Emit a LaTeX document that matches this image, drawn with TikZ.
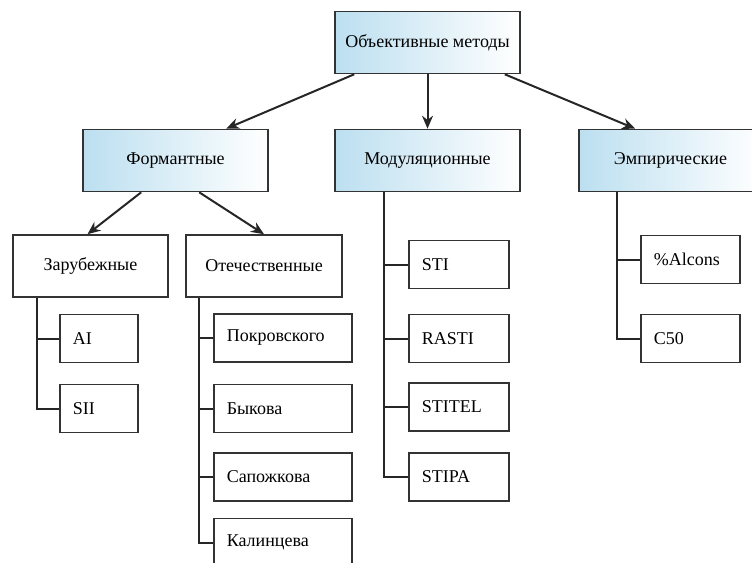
\documentclass[tikz,border=0pt]{standalone}
\usepackage{fontspec}
\setmainfont{Liberation Serif}
\usepackage{tikz}
\usetikzlibrary{arrows.meta}

\definecolor{headblue}{RGB}{188,223,240}

\begin{document}
\begin{tikzpicture}[x=1pt,y=-1pt,
		head/.style={draw=black!80, line width=1.6pt, left color=headblue, right color=white,
			minimum width=185pt, minimum height=62pt, font=\fontsize{18}{20}\selectfont},
		group/.style={draw=black!80, line width=1.6pt, fill=white,
			minimum height=62pt, font=\fontsize{18}{20}\selectfont},
		leaf/.style={draw=black!80, line width=1.6pt, anchor=west, align=left,
			inner xsep=13pt, minimum height=48pt, font=\fontsize{18}{20}\selectfont},
		arr/.style={line width=2pt, black!85, -{Stealth[length=13pt,width=11pt]}},
		link/.style={line width=2pt, black!85}]
		\useasboundingbox (0,0) rectangle (752,562);
		
		% top level
		\node[head] (top) at (427.5,42.5) {Объективные методы};
		\node[head] (form) at (175.5,160.5) {Формантные};
		\node[head] (mod) at (427.5,160.5) {Модуляционные};
		\node[head, minimum width=183pt] (emp) at (670.5,160.5) {Эмпирические};
		
		\draw[arr] ([xshift=20pt]top.south west) -- ([xshift=144pt]form.north west);
		\draw[arr] (top.south) -- (mod.north);
		\draw[arr] ([xshift=-16pt]top.south east) -- ([xshift=57pt]emp.north west);
		
		% formant methods
		\node[group, minimum width=155pt] (zar) at (90.5,266) {Зарубежные};
		\node[group, minimum width=156pt] (otech) at (264,266) {Отечественные};
		
		\draw[arr] ([xshift=59pt]form.south west) -- ([xshift=-3pt]zar.north);
		\draw[arr] ([xshift=117pt]form.south west) -- (otech.north);
		
		\node[leaf, text width=52pt] (ai) at (59,338.5) {AI};
		\node[leaf, text width=52pt] (sii) at (59,408.5) {SII};
		\draw[link] ([xshift=25pt]zar.south west) |- (ai.west);
		\draw[link] ([xshift=25pt]zar.south west) |- (sii.west);
		
		\node[leaf, text width=112pt] (pokr) at (213,338) {Покровского};
		\node[leaf, text width=112pt] (byk) at (213,408.5) {Быкова};
		\node[leaf, text width=112pt] (sap) at (213,477) {Сапожкова};
		\node[leaf, text width=112pt] (kal) at (213,542.5) {Калинцева};
		\foreach \n in {pokr,byk,sap,kal}
		\draw[link] ([xshift=14pt]otech.south west) |- (\n.west);
		
		% modulation methods
		\node[leaf, text width=74pt] (sti) at (408,264.5) {STI};
		\node[leaf, text width=74pt] (rasti) at (408,338.5) {RASTI};
		\node[leaf, text width=74pt] (stitel) at (408,407) {STITEL};
		\node[leaf, text width=74pt] (stipa) at (408,477) {STIPA};
		\foreach \n in {sti,rasti,stitel,stipa}
		\draw[link] ([xshift=50pt]mod.south west) |- (\n.west);
		
		% empirical methods
		\node[leaf, text width=73pt] (alcons) at (640,259.5) {\%Alcons};
		\node[leaf, text width=73pt] (cfifty) at (640,338.5) {C50};
		\foreach \n in {alcons,cfifty}
		\draw[link] ([xshift=39pt]emp.south west) |- (\n.west);
	\end{tikzpicture}
\end{document}
